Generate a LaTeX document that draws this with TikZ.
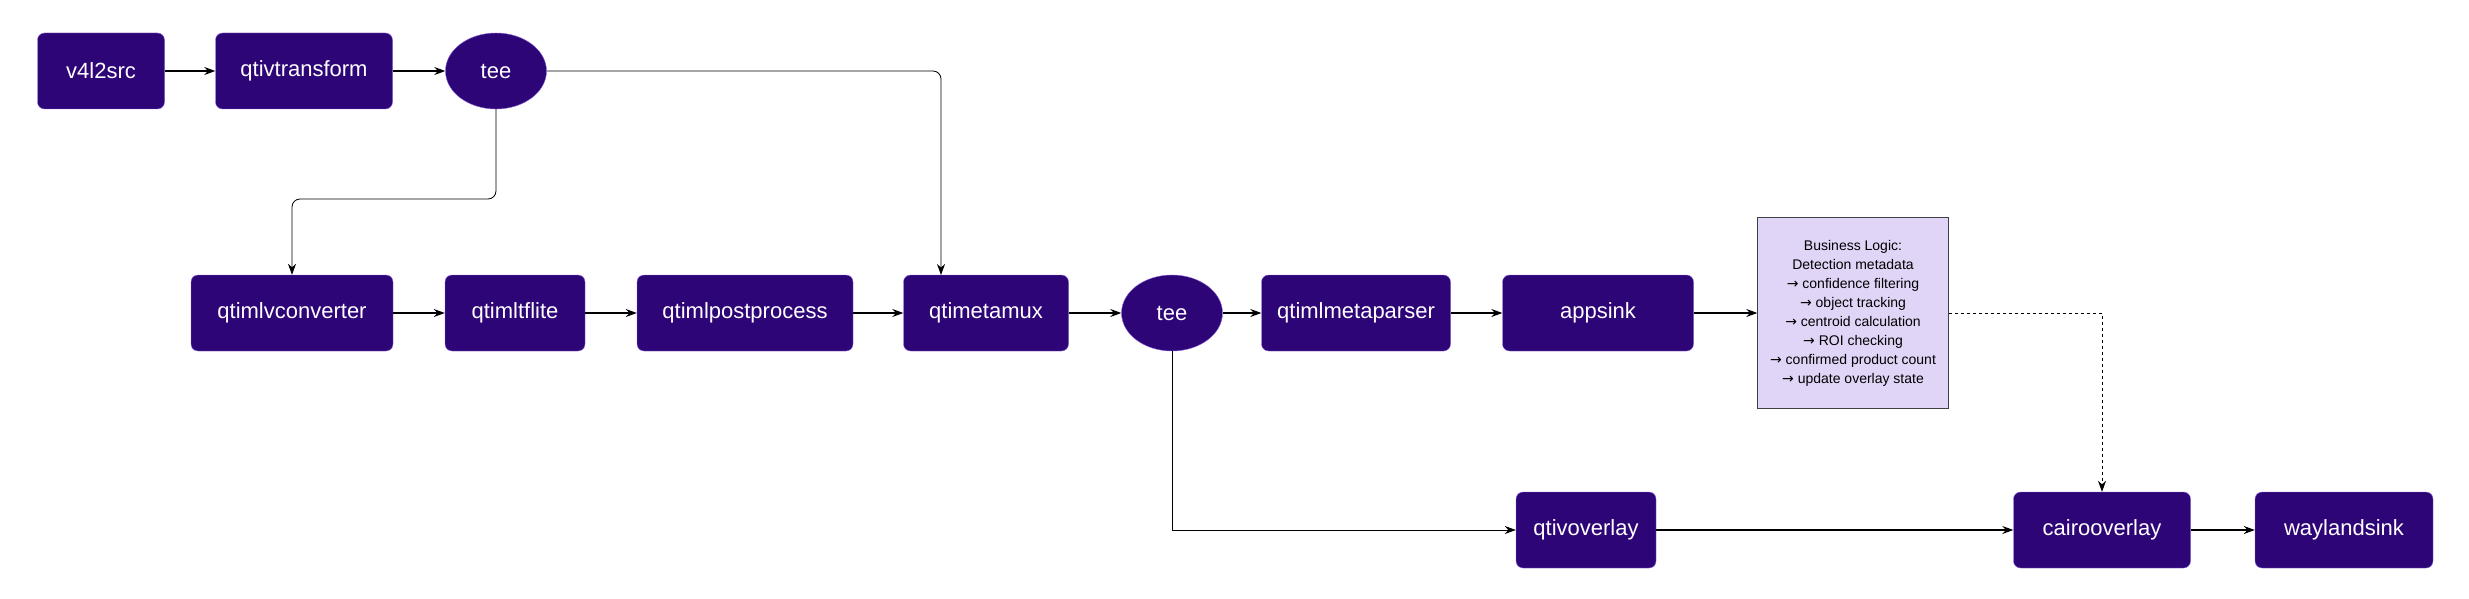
\documentclass[tikz,border=0pt]{standalone}
\usepackage{fontspec}
\setmainfont{Liberation Sans}
\usetikzlibrary{shapes.geometric,arrows.meta}

\begin{document}
\begin{tikzpicture}[x=1pt,y=-1pt,
		elem/.style={rectangle,rounded corners=7pt,draw=blue!55!violet!60,fill=elemfill,
			text=white,inner sep=0pt,minimum height=76pt,font=\fontsize{22}{26}\selectfont},
		teenode/.style={ellipse,draw=blue!55!violet!60,fill=elemfill,text=white,inner sep=0pt,
			minimum width=101pt,minimum height=76pt,font=\fontsize{22}{26}\selectfont},
		flow/.style={-{Stealth[length=11pt,width=8pt]},line width=1.2pt},
		link/.style={-{Stealth[length=11pt,width=8pt]},line width=0.8pt,rounded corners=8pt}
		]
		\definecolor{elemfill}{HTML}{2E0577}
		\definecolor{logicfill}{HTML}{E1D5F7}
		\useasboundingbox (0,0) rectangle (2469,599);

		% top row
		\node[elem,minimum width=127pt](src) at (101,71){v4l2src};
		\node[elem,minimum width=177pt](transform) at (304,71){qtivtransform};
		\node[teenode](tee1) at (496,71){tee};

		% inference row
		\node[elem,minimum width=202pt](converter) at (292,313){qtimlvconverter};
		\node[elem,minimum width=140pt](tflite) at (515,313){qtimltflite};
		\node[elem,minimum width=216pt](postproc) at (745,313){qtimlpostprocess};
		\node[elem,minimum width=165pt](metamux) at (986,313){qtimetamux};
		\node[teenode](tee2) at (1172,313){tee};
		\node[elem,minimum width=189pt](parser) at (1356,313){qtimlmetaparser};
		\node[elem,minimum width=191pt](appsink) at (1598,313){appsink};
		\node[rectangle,draw=black!75,fill=logicfill,minimum width=191pt,minimum height=191pt,
			align=center,font=\fontsize{14}{19}\selectfont](logic) at (1853,313)
			{Business Logic:\\Detection metadata\\{\fontspec{DejaVu Sans}→} confidence filtering\\
			{\fontspec{DejaVu Sans}→} object tracking\\{\fontspec{DejaVu Sans}→} centroid calculation\\
			{\fontspec{DejaVu Sans}→} ROI checking\\{\fontspec{DejaVu Sans}→} confirmed product count\\
			{\fontspec{DejaVu Sans}→} update overlay state};

		% display row
		\node[elem,minimum width=140pt](overlay) at (1586,530){qtivoverlay};
		\node[elem,minimum width=177pt](cairo) at (2102,530){cairooverlay};
		\node[elem,minimum width=178pt](wayland) at (2344,530){waylandsink};

		\draw[flow] (src) -- (transform);
		\draw[flow] (transform) -- (tee1);
		\draw[link] (tee1.east) -- (941,71) -- (941,275);
		\draw[link] (tee1.south) -- (496,199) -- (292,199) -- (converter.north);
		\draw[flow] (converter) -- (tflite);
		\draw[flow] (tflite) -- (postproc);
		\draw[flow] (postproc) -- (metamux);
		\draw[flow] (metamux) -- (tee2);
		\draw[flow] (tee2) -- (parser);
		\draw[flow] (parser) -- (appsink);
		\draw[flow] (appsink) -- (logic);
		\draw[link,rounded corners=0pt] (tee2.south) |- (overlay.west);
		\draw[flow] (overlay) -- (cairo);
		\draw[flow] (cairo) -- (wayland);
		\draw[link,dashed,rounded corners=0pt] (logic.east) -| (cairo.north);
	\end{tikzpicture}
\end{document}
